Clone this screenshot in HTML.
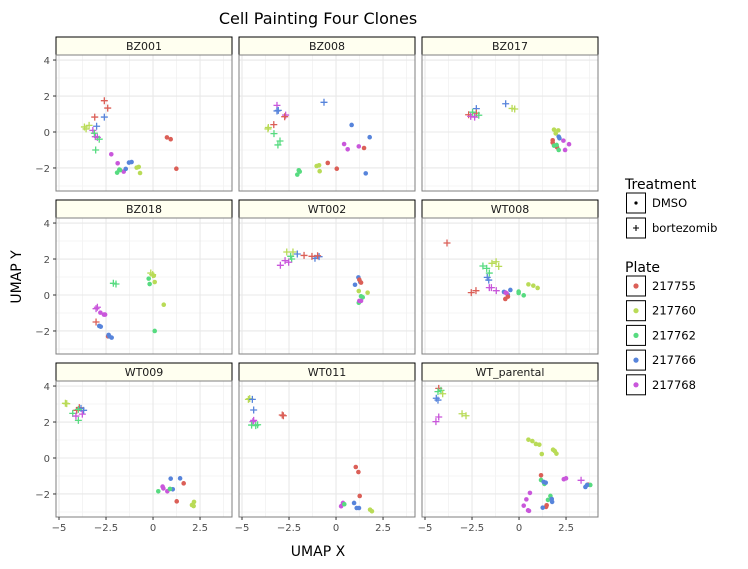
<!DOCTYPE html>
<html><head><meta charset="utf-8"><style>
html,body{margin:0;padding:0;background:#fff;}
svg{display:block;font-family:"DejaVu Sans","Liberation Sans",sans-serif;}
</style></head><body>
<svg id="chart" width="748" height="569" viewBox="0 0 748 569">
<text x="318" y="24" text-anchor="middle" font-size="16" fill="#000">Cell Painting Four Clones</text>
<text x="318" y="556" text-anchor="middle" font-size="14" fill="#000">UMAP X</text>
<text transform="translate(21,277) rotate(-90)" text-anchor="middle" font-size="14" fill="#000">UMAP Y</text>
<g id="panels"></g>
<g id="legend"></g>
</svg>
<script>
const NS='http://www.w3.org/2000/svg';
const plates=['217755','217760','217762','217766','217768'];
const plateColors=['#db5f57','#b9db57','#57db80','#5784db','#c957db'];
const treatments=['DMSO','bortezomib'];
const facetNames=['BZ001','BZ008','BZ017','BZ018','WT002','WT008','WT009','WT011','WT_parental'];
const xTicks=[-5,-2.5,0,2.5];
const xTickLabels=['−5','−2.5','0','2.5'];
const yTicks=[-2,0,2,4];
const yTickLabels=['−2','0','2','4'];
const xMinor=[-3.75,-1.25,1.25,3.75];
const yMinor=[-3,-1,1,3];
// points: [x, y, plateIndex, treatment(0=DMSO,1=bortezomib)]
const bz001=[[-2.59,1.74,0,1],[-2.41,1.33,0,1],[-3.1,0.83,0,1],[-2.59,0.83,3,1],[-3.0,0.32,3,1],[-3.65,0.28,1,1],[-3.4,0.37,1,1],[-3.56,0.17,1,1],[-3.2,0.09,4,1],[-3.07,-0.26,4,1],[-2.96,-0.3,4,1],[-3.12,-0.07,2,1],[-2.86,-0.4,2,1],[-3.05,-1.0,2,1],
[0.74,-0.3,0,0],[0.94,-0.4,0,0],[1.24,-2.04,0,0],[-2.22,-1.24,4,0],[-1.88,-1.74,4,0],[-1.56,-2.2,4,0],[-1.28,-1.7,3,0],[-1.14,-1.67,3,0],[-1.45,-2.05,3,0],[-0.87,-1.98,1,0],[-0.76,-1.94,1,0],[-0.69,-2.28,1,0],[-1.91,-2.26,2,0],[-1.79,-2.09,2,0],[-1.75,-2.12,2,0]];
const bz008=[[-0.64,1.65,3,1],[-3.14,1.48,4,1],[-2.68,0.94,4,1],[-3.14,1.17,3,1],[-3.07,1.2,3,1],[-3.31,0.41,0,1],[-2.73,0.85,0,1],[-3.62,0.17,1,1],[-3.6,0.25,1,1],[-3.3,-0.09,2,1],[-2.98,-0.5,2,1],[-3.09,-0.72,2,1],
[0.83,0.39,3,0],[1.79,-0.29,3,0],[1.58,-2.3,3,0],[0.43,-0.67,4,0],[0.62,-0.96,4,0],[1.21,-0.8,4,0],[1.49,-0.89,0,0],[-0.44,-1.72,0,0],[0.04,-2.04,0,0],[-1.03,-1.89,1,0],[-0.9,-1.85,1,0],[-0.87,-2.18,1,0],[-1.98,-2.13,2,0],[-1.93,-2.2,2,0],[-2.06,-2.37,2,0]];
const bz017=[[-2.27,1.3,3,1],[-0.71,1.57,3,1],[-0.37,1.31,1,1],[-0.23,1.28,1,1],[-2.68,0.96,0,1],[-2.27,1.05,0,1],[-2.57,0.87,4,1],[-2.36,0.83,4,1],[-2.47,1.1,2,1],[-2.14,0.93,2,1],
[1.86,0.13,1,0],[2.09,0.09,1,0],[1.95,-0.08,1,0],[2.11,-0.26,3,0],[2.15,-0.35,3,0],[1.79,-0.46,0,0],[1.79,-0.59,0,0],[2.02,-0.85,0,0],[1.86,-0.76,2,0],[2.0,-0.72,2,0],[2.11,-1.0,2,0],[2.36,-0.48,4,0],[2.66,-0.68,4,0],[2.45,-1.0,4,0]];
const bz018=[[-1.97,0.61,2,1],[-2.11,0.65,2,1],[-0.12,1.22,1,1],[-0.02,1.13,1,1],[-3.03,-0.76,4,1],[-2.96,-0.68,4,1],[-3.03,-1.5,0,1],
[0.04,1.07,1,0],[0.09,0.72,1,0],[0.57,-0.54,1,0],[-0.23,0.91,2,0],[-0.18,0.61,2,0],[0.09,-2.0,2,0],[-2.8,-0.98,4,0],[-2.61,-1.09,4,0],[-2.55,-1.09,4,0],[-2.39,-2.3,0,0],[-2.86,-1.72,3,0],[-2.78,-1.76,3,0],[-2.36,-2.22,3,0],[-2.2,-2.37,3,0],[-2.32,-2.3,3,0]];
const wt002=[[-2.62,2.39,1,1],[-2.29,2.39,1,1],[-2.41,2.15,2,1],[-2.36,2.0,2,1],[-2.06,2.28,3,1],[-1.12,2.04,3,1],[-0.9,2.13,3,1],[-1.7,2.2,0,1],[-1.28,2.15,0,1],[-0.98,2.18,0,1],[-2.71,1.91,4,1],[-2.52,1.82,4,1],[-2.96,1.65,4,1],
[1.19,0.98,3,0],[1.01,0.57,3,0],[1.29,0.72,3,0],[1.24,0.85,0,0],[1.33,0.69,0,0],[1.21,0.22,1,0],[1.68,0.13,1,0],[1.33,-0.07,2,0],[1.42,-0.13,2,0],[1.21,-0.43,2,0],[1.24,-0.33,4,0],[1.33,-0.33,4,0]];
const wt008=[[-3.83,2.89,0,1],[-2.54,0.13,0,1],[-2.29,0.24,0,1],[-1.44,1.76,1,1],[-1.22,1.85,1,1],[-1.08,1.59,1,1],[-1.92,1.61,2,1],[-1.72,1.48,2,1],[-1.58,1.22,2,1],[-1.69,0.98,3,1],[-1.61,0.83,3,1],[-1.58,0.41,4,1],[-1.47,0.41,4,1],[-1.21,0.24,4,1],
[0.5,0.59,1,0],[0.76,0.52,1,0],[0.99,0.39,1,0],[-0.02,0.19,2,0],[-0.02,0.11,2,0],[0.25,-0.02,2,0],[-0.46,0.28,3,0],[-0.8,0.17,3,0],[-0.6,0.02,3,0],[-0.71,0.13,4,0],[-0.66,0.09,4,0],[-0.59,-0.09,0,0],[-0.73,-0.22,0,0]];
const wt009=[[-4.66,3.04,1,1],[-4.59,3.02,1,1],[-3.92,2.8,0,1],[-4.06,2.65,0,1],[-3.69,2.65,3,1],[-3.83,2.76,3,1],[-4.27,2.48,2,1],[-3.97,2.09,2,1],[-3.97,2.7,2,1],[-4.1,2.33,4,1],[-3.76,2.44,4,1],
[0.94,-1.15,3,0],[1.44,-1.13,3,0],[1.05,-1.74,3,0],[1.63,-1.41,0,0],[1.26,-2.41,0,0],[0.51,-1.59,4,0],[0.55,-1.69,4,0],[0.76,-1.85,4,0],[0.28,-1.85,2,0],[0.9,-1.72,2,0],[2.18,-2.44,1,0],[2.07,-2.61,1,0],[2.16,-2.67,1,0]];
const wt011=[[-4.66,3.26,1,1],[-4.59,3.3,1,1],[-4.45,3.26,3,1],[-4.38,2.67,3,1],[-2.86,2.39,0,1],[-2.8,2.35,0,1],[-4.42,2.02,4,1],[-4.38,2.09,4,1],[-4.49,1.83,2,1],[-4.17,1.85,2,1],[-4.27,1.8,2,1],
[1.05,-0.5,0,0],[1.19,-0.78,0,0],[1.26,-2.11,0,0],[0.96,-2.5,3,0],[1.1,-2.78,3,0],[1.22,-2.78,3,0],[0.37,-2.5,4,0],[0.27,-2.68,4,0],[0.44,-2.57,2,0],[1.81,-2.87,1,0],[1.91,-2.96,1,0]];
const wtParental=[[-4.27,3.87,0,1],[-4.15,3.76,2,1],[-4.31,3.69,2,1],[-4.06,3.57,1,1],[-3.03,2.46,1,1],[-2.82,2.35,1,1],[-4.4,3.32,3,1],[-4.31,3.22,3,1],[-4.27,2.28,4,1],[-4.42,2.02,4,1],[3.3,-1.24,4,1],
[0.5,1.02,1,0],[0.71,0.94,1,0],[0.9,0.78,1,0],[1.08,0.74,1,0],[1.21,0.22,1,0],[1.81,0.46,1,0],[1.9,0.39,1,0],[1.99,0.24,1,0],
[1.17,-0.96,0,0],[1.47,-2.63,0,0],[1.44,-2.72,0,0],[3.67,-1.48,0,0],
[1.17,-1.22,2,0],[1.35,-1.44,2,0],[1.67,-2.11,2,0],[1.54,-2.33,2,0],[3.79,-1.5,2,0],
[1.31,-1.33,3,0],[1.42,-1.37,3,0],[1.74,-2.28,3,0],[1.76,-2.44,3,0],[1.26,-2.76,3,0],[3.53,-1.61,3,0],[3.62,-1.5,3,0],
[2.38,-1.18,4,0],[2.5,-1.13,4,0],[0.58,-1.94,4,0],[0.39,-2.3,4,0],[0.25,-2.65,4,0],[0.48,-2.91,4,0],[0.53,-2.94,4,0]];
const facetData=[bz001,bz008,bz017,bz018,wt002,wt008,wt009,wt011,wtParental];

const colLeft=[56,239,422], panelW=176;
const rowTop=[55,218,381], panelH=136;
const xDomain=[-5.16,4.2], yDomain=[-3.28,4.28];
function mk(tag,attrs,parent){const e=document.createElementNS(NS,tag);for(const k in attrs)e.setAttribute(k,attrs[k]);parent.appendChild(e);return e;}
const root=document.getElementById('panels');
facetNames.forEach((name,i)=>{
  const c=i%3,r=Math.floor(i/3);
  const L=colLeft[c],T=rowTop[r];
  const sx=v=>L+(v-xDomain[0])/(xDomain[1]-xDomain[0])*panelW;
  const sy=v=>T+panelH-(v-yDomain[0])/(yDomain[1]-yDomain[0])*panelH;
  const g=mk('g',{},root);
  
  
  const strip=mk('rect',{x:L,y:T-18,width:panelW,height:18,fill:'#fffff0',stroke:'#000','stroke-width':1},g);
  
  
  const st=mk('text',{x:L+panelW/2,y:T-5,'text-anchor':'middle','font-size':11,fill:'#1a1a1a'},g);
  st.textContent=name;
  
  
  mk('rect',{x:L,y:T,width:panelW,height:panelH,fill:'#fff'},g);
  xMinor.forEach(v=>{if(v>xDomain[0]&&v<xDomain[1])mk('line',{x1:sx(v),x2:sx(v),y1:T,y2:T+panelH,stroke:'#f2f2f2','stroke-width':0.8},g);});
  yMinor.forEach(v=>mk('line',{x1:L,x2:L+panelW,y1:sy(v),y2:sy(v),stroke:'#f2f2f2','stroke-width':0.8},g));
  xTicks.forEach(v=>mk('line',{x1:sx(v),x2:sx(v),y1:T,y2:T+panelH,stroke:'#e8e8e8','stroke-width':1.1},g));
  yTicks.forEach(v=>mk('line',{x1:L,x2:L+panelW,y1:sy(v),y2:sy(v),stroke:'#e8e8e8','stroke-width':1.1},g));
  mk('rect',{x:L,y:T,width:panelW,height:panelH,fill:'none',stroke:'#7f7f7f','stroke-width':1},g);
  if(c===0){yTicks.forEach((v,k)=>{
    mk('line',{x1:L-3,x2:L,y1:sy(v),y2:sy(v),stroke:'#333'},g);
    const t=mk('text',{x:L-6,y:sy(v)+4,'text-anchor':'end','font-size':10,fill:'#4d4d4d'},g);
    t.textContent=yTickLabels[k];
    
    
  });}
  if(r===2){xTicks.forEach((v,k)=>{
    mk('line',{x1:sx(v),x2:sx(v),y1:T+panelH,y2:T+panelH+3,stroke:'#333'},g);
    const t=mk('text',{x:sx(v),y:T+panelH+14,'text-anchor':'middle','font-size':10,fill:'#4d4d4d'},g);
    t.textContent=xTickLabels[k];
    
    
  });}
  facetData[i].forEach(p=>{
    const px=sx(p[0]),py=sy(p[1]),col=plateColors[p[2]];
    let m;
    if(p[3]===0){m=mk('circle',{cx:px,cy:py,r:2.3,fill:col},g);}
    else{m=mk('path',{d:`M${px-3.5},${py}H${px+3.5}M${px},${py-3.5}V${py+3.5}`,stroke:col,'stroke-width':1.3,fill:'none'},g);}
    
    
  });
});
const lg=document.getElementById('legend');
function title(txt,y){const t=mk('text',{x:625,y:y,'font-size':14,fill:'#000'},lg);t.textContent=txt;}
title('Treatment',189);
treatments.forEach((tr,k)=>{
  const y=193+k*25;
  const b=mk('rect',{x:626.5,y:y,width:19,height:20,fill:'#fff',stroke:'#000','stroke-width':1},lg);
  
  
  if(k===0)mk('circle',{cx:636,cy:y+10,r:1.6,fill:'#000'},lg);
  else mk('path',{d:`M${633},${y+10}H${639}M636,${y+7}V${y+13}`,stroke:'#000','stroke-width':1.1},lg);
  const t=mk('text',{x:652,y:y+14,'font-size':11.5,fill:'#000'},lg);t.textContent=tr;
  
  
});
title('Plate',272);
plates.forEach((p,k)=>{
  const y=276+k*24.7;
  const b=mk('rect',{x:626.5,y:y,width:19,height:20,fill:'#fff',stroke:'#000','stroke-width':1},lg);
  
  
  mk('circle',{cx:636,cy:y+10,r:2.6,fill:plateColors[k]},lg);
  const t=mk('text',{x:652,y:y+14,'font-size':11.5,fill:'#000'},lg);t.textContent=p;
  
  
});
</script>
</body></html>
